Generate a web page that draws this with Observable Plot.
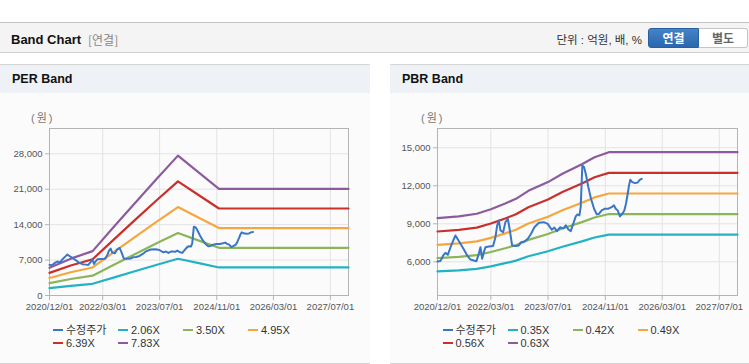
<!DOCTYPE html>
<html><head><meta charset="utf-8">
<script src="https://cdn.jsdelivr.net/npm/d3@7"></script>
<script src="https://cdn.jsdelivr.net/npm/@observablehq/plot@0.6"></script>
<style>
body{margin:0;background:#fff;font-family:"Liberation Sans","Noto Sans CJK KR",sans-serif;}
#root{position:relative;width:749px;height:364px;overflow:hidden;background:#fff;}
.a{position:absolute;white-space:nowrap;}
#topbar{left:0;top:22px;width:749px;height:31px;box-sizing:border-box;background:#f4f4f4;border-top:1px solid #c4c4c4;border-bottom:1px solid #cfcfcf;}
.panel{top:64px;height:300px;box-sizing:border-box;background:#fbfbfb;border-top:1px solid #d6d6d6;border-bottom:1px solid #d2d2d2;}
.phead{left:0;top:0;right:0;height:28px;background:#eef2f7;font-weight:bold;font-size:12.5px;line-height:29px;color:#111;padding-left:12px;box-sizing:border-box;}
.unit{font-size:11px;color:#777;line-height:14px;letter-spacing:2px;}
.btn{top:28px;height:20px;box-sizing:border-box;font-weight:bold;font-size:12px;line-height:18px;text-align:center;font-family:"Noto Sans CJK KR",sans-serif;}
.leg{font-size:11px;color:#333;line-height:14px;}
.legline{width:10px;height:2px;}
</style></head><body><div id="root">
<div class="a" id="topbar"></div>
<div class="a" style="left:11px;top:31px;line-height:18px;font-size:13px;font-weight:bold;color:#111;">Band Chart</div>
<div class="a" style="left:88px;top:31px;line-height:18px;font-size:12px;color:#888;font-family:'Noto Sans CJK KR',sans-serif;">[연결]</div>
<div class="a" style="right:107px;top:31px;line-height:18px;font-size:11.5px;color:#333;">단위 : 억원, 배, %</div>
<div class="a btn" style="left:648px;width:51px;background:linear-gradient(#4583c9,#2a67ae);border:1px solid #2a5f9e;border-radius:3px 0 0 3px;color:#fff;">연결</div>
<div class="a btn" style="left:699px;width:49px;background:#fff;border:1px solid #c5c5c5;border-left:none;border-radius:0 3px 3px 0;color:#666;">별도</div>
<div class="a panel" style="left:0;width:370px;"><div class="a phead">PER Band</div></div>
<div class="a panel" style="left:390px;width:359px;"><div class="a phead">PBR Band</div></div>
<div class="a unit" style="left:31px;top:111px;">(원)</div>
<div class="a unit" style="left:421px;top:111px;">(원)</div>
<div class="a" id="per" style="left:0;top:93px;"></div>
<div class="a" id="pbr" style="left:390px;top:93px;"></div>
<div id="legends"></div>
</div>
<script>
// ---------- data ----------
const xTickLabels = ["2020/12/01","2022/03/01","2023/07/01","2024/11/01","2026/03/01","2027/07/01"];
const xStart = "2020-12-01";
const xEnd = "2027-12-03";
const perYTicks = [0, 7000, 14000, 21000, 28000];
const pbrYTicks = [6000, 9000, 12000, 15000];
const priceName = "수정주가";
const perNames = ["2.06X","3.50X","4.95X","6.39X","7.83X"];
const pbrNames = ["0.35X","0.42X","0.49X","0.56X","0.63X"];

const priceDates = ["2020-12-01","2020-12-27","2021-01-19","2021-02-07","2021-02-27","2021-03-22","2021-04-14","2021-05-03","2021-05-24","2021-06-15","2021-07-14","2021-08-11","2021-09-08","2021-10-07","2021-10-29","2021-11-18","2021-12-02","2021-12-17","2021-12-31","2022-01-14","2022-02-12","2022-03-20","2022-04-09","2022-04-24","2022-05-08","2022-05-22","2022-06-14","2022-07-03","2022-07-24","2022-08-10","2022-08-29","2022-09-27","2022-10-25","2022-11-14","2022-12-12","2023-01-10","2023-02-07","2023-03-07","2023-04-14","2023-05-26","2023-06-29","2023-08-02","2023-08-25","2023-09-14","2023-10-12","2023-11-10","2023-11-30","2023-12-22","2024-01-11","2024-02-03","2024-02-23","2024-03-08","2024-03-25","2024-04-05","2024-04-19","2024-05-04","2024-05-18","2024-06-09","2024-07-02","2024-07-28","2024-08-20","2024-09-08","2024-10-01","2024-10-29","2024-11-27","2024-12-25","2025-01-14","2025-01-29","2025-02-15","2025-03-06","2025-03-26","2025-04-12","2025-04-26","2025-05-11","2025-05-22","2025-06-02","2025-06-19","2025-07-12","2025-08-04","2025-08-21","2025-09-07"];
const priceValues = [6020,6070,6500,6710,6550,7150,7680,8080,7760,7420,6970,6500,6180,6100,6050,6630,7150,6240,6760,7150,7210,7240,7940,8870,9260,8470,8340,9130,9390,8470,7290,7240,7290,7550,7600,7820,8210,8730,9080,9130,8990,8530,8700,8410,8720,8640,8880,8550,8420,9050,9580,9740,9660,10320,13600,13470,12950,11900,10980,10190,9740,9790,10050,10190,10190,10320,10450,10190,10050,9580,9790,10050,10580,11370,12030,12470,12290,12210,12260,12470,12550];

const perBandDates = ["2020-12-01","2021-06-01","2021-12-05","2022-06-01","2022-12-01","2023-06-01","2023-12-05","2024-06-01","2024-11-20","2027-12-03"];
const per206 = [1440,1920,2310,3540,4800,6040,7270,6390,5540,5540];
const per350 = [2450,3260,3920,6020,8160,10260,12360,10850,9420,9420];
const per495 = [3470,4600,5540,8510,11530,14500,17470,15350,13320,13320];
const per639 = [4470,5940,7160,10990,14890,18720,22560,19810,17190,17190];
const per783 = [5480,7280,8770,13470,18240,22940,27640,24270,21060,21060];

const pbrBandDates = ["2020-12-01","2021-06-01","2021-11-01","2022-03-01","2022-07-01","2022-10-01","2023-01-15","2023-07-01","2023-11-01","2024-04-15","2024-08-01","2024-12-01","2027-12-03"];
const pbr035 = [5240,5320,5440,5640,5890,6090,6440,6830,7190,7610,7920,8140,8140];
const pbr042 = [6290,6390,6530,6770,7070,7310,7730,8190,8630,9130,9500,9770,9770];
const pbr049 = [7340,7450,7610,7890,8240,8530,9020,9560,10070,10660,11080,11390,11390];
const pbr056 = [8390,8520,8700,9020,9420,9750,10310,10920,11510,12180,12670,13020,13020];
const pbr063 = [9440,9580,9790,10150,10600,10970,11600,12290,12950,13700,14250,14650,14650];

// ---------- styles ----------
const priceColor = "#3a76c6";
const bandColors = ["#22b2c3","#8cb55a","#f5a73f","#c9302c","#8d5a9d"];
const FONT = "'Liberation Sans','Noto Sans CJK KR',sans-serif";

const parseISO = d3.utcParse("%Y-%m-%d");
const parseTick = d3.utcParse("%Y/%m/%d");
const fmtTick = d3.utcFormat("%Y/%m/%d");
const xTicks = xTickLabels.map(parseTick);
const xDomain = [parseISO(xStart), parseISO(xEnd)];
const priceData = priceDates.map((d, i) => ({date: parseISO(d), value: priceValues[i]}));

function chart({width, marginLeft, marginRight, yDomain, yTicks, bandDates, bands}) {
  const marks = [
    Plot.gridX(xTicks, {stroke: "#e3e3e3", strokeOpacity: 1}),
    Plot.gridY(yTicks, {stroke: "#e3e3e3", strokeOpacity: 1}),
    Plot.frame({stroke: "#b4b4b4"}),
    Plot.axisX(xTicks, {tickFormat: fmtTick, tickSize: 5, tickPadding: 3, stroke: "#b4b4b4", fill: "#555", fontSize: 9.5, label: null}),
    Plot.axisY(yTicks, {tickFormat: d3.format(","), tickSize: 4, tickPadding: 3, stroke: "#b4b4b4", fill: "#555", fontSize: 9.5, label: null})
  ];
  bands.forEach((vals, i) => {
    const data = bandDates.map((d, j) => ({date: parseISO(d), value: vals[j]}));
    marks.push(Plot.line(data, {x: "date", y: "value", stroke: bandColors[i], strokeWidth: 2.2}));
  });
  marks.push(Plot.line(priceData, {x: "date", y: "value", stroke: priceColor, strokeWidth: 2}));
  return Plot.plot({
    width, height: 230, marginLeft, marginRight, marginTop: 35, marginBottom: 28,
    x: {type: "utc", domain: xDomain, label: null},
    y: {domain: yDomain, label: null},
    style: {background: "transparent", fontFamily: FONT, overflow: "visible"},
    marks
  });
}

document.getElementById("per").appendChild(chart({
  width: 370, marginLeft: 49, marginRight: 22, yDomain: [0, 33000], yTicks: perYTicks,
  bandDates: perBandDates, bands: [per206, per350, per495, per639, per783]
}));
document.getElementById("pbr").appendChild(chart({
  width: 359, marginLeft: 47, marginRight: 12, yDomain: [3340, 16520], yTicks: pbrYTicks,
  bandDates: pbrBandDates, bands: [pbr035, pbr042, pbr049, pbr056, pbr063]
}));

// ---------- legends ----------
function legend(x0, names) {
  const items = [{name: priceName, color: priceColor}].concat(names.map((n, i) => ({name: n, color: bandColors[i]})));
  const host = document.getElementById("legends");
  items.forEach((it, i) => {
    const col = i % 4, row = Math.floor(i / 4);
    const x = x0 + col * 65, y = 330 + row * 13;
    const ln = document.createElement("div");
    ln.className = "a legline";
    ln.style.left = x + "px"; ln.style.top = (y - 1) + "px"; ln.style.background = it.color;
    const tx = document.createElement("div");
    tx.className = "a leg";
    tx.style.left = (x + 13) + "px"; tx.style.top = (y - 7) + "px";
    tx.textContent = it.name;
    host.appendChild(ln); host.appendChild(tx);
  });
}
legend(53, perNames);
legend(442.5, pbrNames);
</script>
</body></html>
